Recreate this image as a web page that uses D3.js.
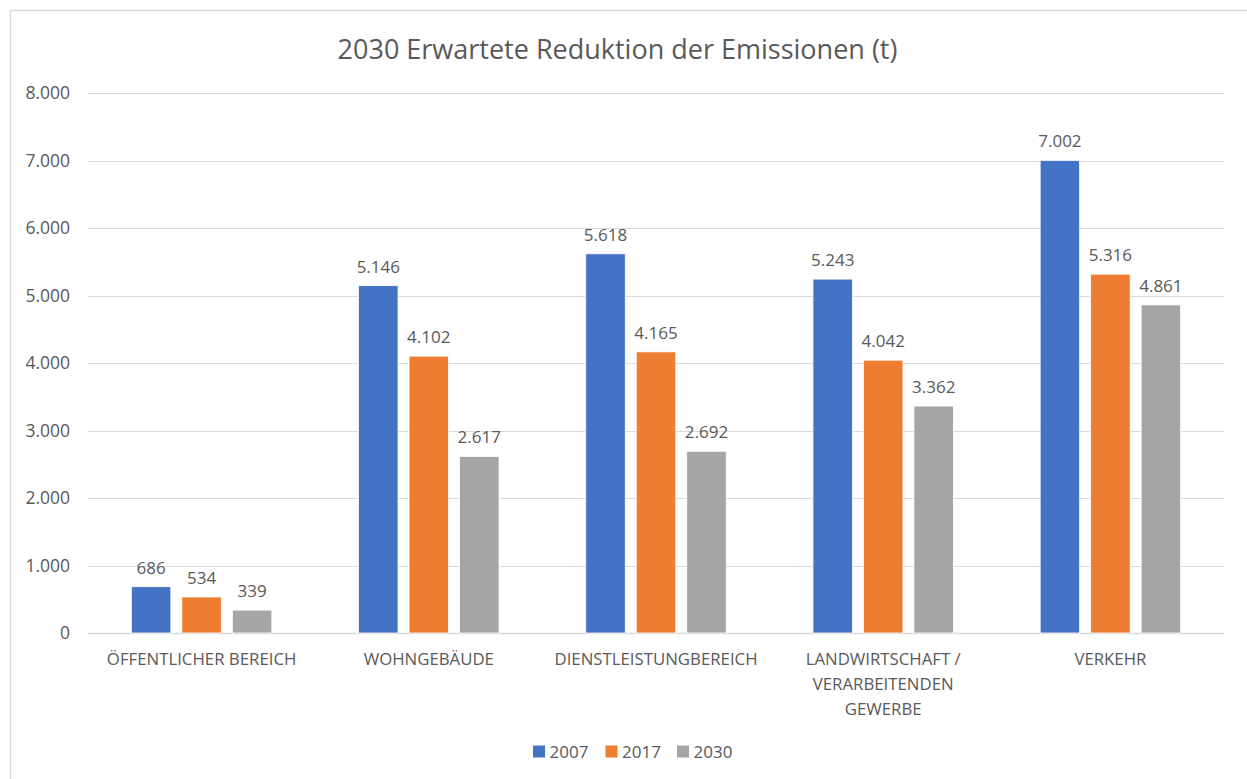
<!DOCTYPE html>
<html>
<head>
<meta charset="utf-8">
<script src="https://cdn.jsdelivr.net/npm/d3@7"></script>
<style>
  html, body { margin: 0; padding: 0; background: #fff; }
  svg { display: block; font-family: "Open Sans", "Noto Sans", sans-serif; }
  svg text { font-family: "Open Sans", "Noto Sans", sans-serif; }
</style>
</head>
<body>
<svg id="chart" width="1247" height="779"></svg>
<script>
const title = "2030 Erwartete Reduktion der Emissionen (t)";
const categories = ["ÖFFENTLICHER BEREICH", "WOHNGEBÄUDE", "DIENSTLEISTUNGBEREICH", "LANDWIRTSCHAFT / VERARBEITENDEN GEWERBE", "VERKEHR"];
const categoryLines = [["ÖFFENTLICHER BEREICH"], ["WOHNGEBÄUDE"], ["DIENSTLEISTUNGBEREICH"], ["LANDWIRTSCHAFT /", "VERARBEITENDEN", "GEWERBE"], ["VERKEHR"]];
const seriesNames = ["2007", "2017", "2030"];
const values2007 = [686, 5146, 5618, 5243, 7002];
const values2017 = [534, 4102, 4165, 4042, 5316];
const values2030 = [339, 2617, 2692, 3362, 4861];
const yTicks = [0, 1000, 2000, 3000, 4000, 5000, 6000, 7000, 8000];
const colors = ["#4472C4", "#ED7D31", "#A5A5A5"];

const seriesValues = [values2007, values2017, values2030];
const de = d3.formatLocale({decimal: ",", thousands: ".", grouping: [3], currency: ["", " €"]});
const fmt = de.format(",d");

const svg = d3.select("#chart");
const textColor = "#595959";
const FONT = '"Open Sans", "Noto Sans", sans-serif';

// outer chart border
svg.append("rect")
  .attr("x", 10.5).attr("y", 10.5)
  .attr("width", 1260).attr("height", 800)
  .attr("fill", "#fff").attr("stroke", "#D9D9D9").attr("stroke-width", 1.5);

const plot = {left: 88, right: 1224, top: 93, bottom: 633};

const x0 = d3.scaleBand().domain(categories).range([plot.left, plot.right]).paddingInner(0).paddingOuter(0);
const y = d3.scaleLinear().domain([0, 8000]).range([plot.bottom, plot.top]);

// title
svg.append("text")
  .attr("x", 617.5).attr("y", 59)
  .attr("text-anchor", "middle")
  .attr("fill", textColor)
  .style("font-family", FONT)
  .style("font-size", "27px")
  .text(title);

// y axis labels
const yAxis = d3.axisLeft(y).tickValues(yTicks).tickFormat(d => fmt(d)).tickSize(0).tickPadding(18);
const yG = svg.append("g").attr("transform", `translate(${plot.left},0)`).call(yAxis);
yG.attr("font-family", null).attr("font-size", null);
yG.select(".domain").remove();
yG.selectAll("text").attr("fill", textColor).style("font-family", FONT).style("font-size", "17.5px").attr("x", -18);

// gridlines
const grid = svg.append("g");
grid.selectAll("line").data(yTicks).join("line")
  .attr("x1", plot.left).attr("x2", plot.right)
  .attr("y1", d => Math.round(y(d)) + 0.5).attr("y2", d => Math.round(y(d)) + 0.5)
  .attr("stroke", "#D9D9D9").attr("stroke-width", d => d === 0 ? 1.5 : 1.2);

// bars
const barW = 39.5, step = 50.5;

const groups = svg.append("g").selectAll("g").data(categories).join("g")
  .attr("transform", d => `translate(${x0(d) + x0.bandwidth() / 2 - (step * 2 + barW) / 2},0)`);

groups.each(function(cat, ci) {
  const g = d3.select(this);
  const data = seriesNames.map((s, si) => ({s, si, v: seriesValues[si][ci]}));
  g.selectAll("rect").data(data).join("rect")
    .attr("x", d => d.si * step)
    .attr("y", d => y(d.v))
    .attr("width", barW)
    .attr("height", d => y(0) - y(d.v))
    .attr("fill", d => colors[d.si])
    .attr("stroke", "#fff").attr("stroke-width", 0.8);
  g.selectAll("text.lbl").data(data).join("text")
    .attr("class", "lbl")
    .attr("x", d => d.si * step + barW / 2)
    .attr("y", d => y(d.v) - 13)
    .attr("text-anchor", "middle")
    .attr("fill", textColor)
    .style("font-family", FONT)
    .style("font-size", "17px")
    .text(d => fmt(d.v));
});

// x axis category labels
const xAxis = d3.axisBottom(x0).tickSize(0).tickPadding(0);
const xG = svg.append("g").attr("transform", `translate(0,${plot.bottom})`).call(xAxis);
xG.attr("font-family", null).attr("font-size", null);
xG.select(".domain").remove();
xG.selectAll("text").attr("fill", textColor).style("font-family", FONT).style("font-size", "16.8px").attr("dy", null).attr("y", 32)
  .each(function(d) {
    const t = d3.select(this);
    const lines = categoryLines[categories.indexOf(d)];
    t.text(null);
    lines.forEach((l, i) => {
      t.append("tspan").attr("x", 0).attr("y", 32 + i * 25).text(l);
    });
  });

// legend
const legendX = [533, 605.5, 677];
const legend = svg.append("g");
seriesNames.forEach((s, i) => {
  legend.append("rect").attr("x", legendX[i]).attr("y", 745.5).attr("width", 12).attr("height", 12).attr("fill", colors[i]);
  legend.append("text").attr("x", legendX[i] + 16.5).attr("y", 757.5).attr("fill", textColor)
    .style("font-family", FONT).style("font-size", "17px").text(s);
});
</script>
</body>
</html>
